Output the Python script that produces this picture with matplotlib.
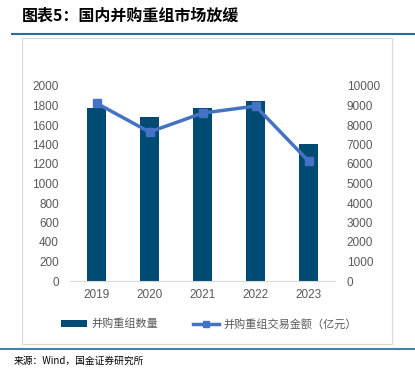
import matplotlib
matplotlib.use("Agg")
import matplotlib.pyplot as plt
from matplotlib.patches import Rectangle
from matplotlib.lines import Line2D

plt.rcParams['font.family'] = ['Noto Sans CJK SC', 'DejaVu Sans']

years = ["2019", "2020", "2021", "2022", "2023"]
deal_count = [1770, 1680, 1770, 1845, 1410]
deal_value = [9120, 7640, 8610, 8970, 6150]
left_ticks = [0, 200, 400, 600, 800, 1000, 1200, 1400, 1600, 1800, 2000]
right_ticks = [0, 1000, 2000, 3000, 4000, 5000, 6000, 7000, 8000, 9000, 10000]

bar_color = "#004B74"
line_color = "#4472C4"
tick_color = "#595959"
num_font = ['Liberation Sans', 'Noto Sans CJK SC']

fig = plt.figure(figsize=(4.15, 3.75), dpi=100)
W, H = 415, 375

def fx(x): return x / W
def fy(y): return 1 - y / H

# title
fig.text(fx(22), fy(16), "图表5：国内并购重组市场放缓", fontsize=11.5, fontweight='bold',
         fontstyle='italic', va='center', ha='left', color='black')
# top rule
fig.add_artist(Line2D([fx(12), 1.0], [fy(34), fy(34)], color="#2E6A96", lw=1.5))
# frame
fig.add_artist(Rectangle((fx(22), fy(344)), fx(392) - fx(22), fy(38) - fy(344),
                         fill=False, edgecolor="#D9D9D9", lw=0.8))
# bottom rule
fig.add_artist(Line2D([0.0, 1.0], [fy(349), fy(349)], color="#4A7FA5", lw=1.5))
# source
fig.text(fx(14), fy(361), "来源：Wind，国金证券研究所", fontsize=7, va='center', ha='left', color='black')

ax = fig.add_axes([fx(70), fy(281), fx(335) - fx(70), fy(86) - fy(281)])
x = list(range(len(years)))
bars = ax.bar(x, deal_count, width=0.34, color=bar_color, label="并购重组数量", zorder=2)
ax.set_xlim(-0.5, 4.5)
ax.set_ylim(0, 2000)
ax.set_yticks(left_ticks)
ax.set_xticks(x)
ax.set_xticklabels(years)
for s in ["top", "right", "left"]:
    ax.spines[s].set_visible(False)
ax.spines["bottom"].set_color("#D9D9D9")
ax.tick_params(axis='both', length=0, labelsize=8.5, labelcolor=tick_color, pad=6)
ax.tick_params(axis='y', pad=8)

ax2 = ax.twinx()
ln, = ax2.plot(x, deal_value, color=line_color, lw=2.5, marker='s', markersize=6,
               label="并购重组交易金额（亿元）", zorder=3)
ax2.set_ylim(0, 10000)
ax2.set_yticks(right_ticks)
for s in ["top", "right", "left", "bottom"]:
    ax2.spines[s].set_visible(False)
ax2.tick_params(axis='y', length=0, labelsize=8.5, labelcolor=tick_color, pad=8.5)

for lab in ax.get_xticklabels() + ax.get_yticklabels() + ax2.get_yticklabels():
    lab.set_family(num_font)

leg_line = Line2D([], [], color=line_color, lw=2.5, marker='s', markersize=4)
fig.legend([bars, leg_line], ["并购重组数量", "并购重组交易金额（亿元）"], loc='center',
           bbox_to_anchor=(fx(209), fy(324)), ncol=2, frameon=False, fontsize=8,
           labelcolor=tick_color, handlelength=2.3, columnspacing=3.2, handletextpad=0.4)

fig.savefig("out.png", dpi=100)
